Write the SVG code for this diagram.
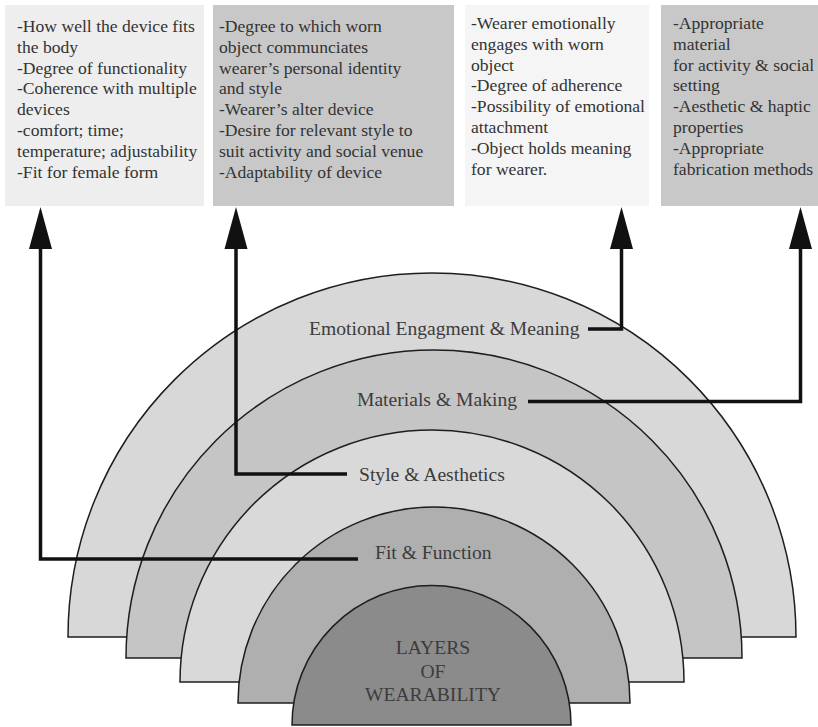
<svg xmlns="http://www.w3.org/2000/svg" width="818" height="727" viewBox="0 0 818 727">
<style>
.box text{font-family:'Liberation Serif','Times New Roman',serif;font-size:17.6px;fill:#333}
.arc{stroke:#1e1e1e;stroke-width:1.5}
.lbl{font-family:'Liberation Serif','Times New Roman',serif;font-size:19.6px;fill:#3c3c3c}
.conn{fill:none;stroke:#111;stroke-width:3.5;stroke-linejoin:miter}
</style>
<defs>
<marker id="ah" markerUnits="userSpaceOnUse" markerWidth="44" markerHeight="26" viewBox="0 -13 44 26" refX="0" refY="0" orient="auto" overflow="visible">
<path d="M0,-11.5 L42,0 L0,11.5 Z" fill="#111"/>
</marker>
</defs>
<rect width="818" height="727" fill="#ffffff"/>
<g id="box-fit" class="box">
<rect x="5" y="5" width="199" height="201" fill="#eeeeee"/>
<text x="17" y="32">-How well the device fits</text>
<text x="17" y="52.8">the body</text>
<text x="17" y="73.6">-Degree of functionality</text>
<text x="17" y="94.4">-Coherence with multiple</text>
<text x="17" y="115.2">devices</text>
<text x="17" y="136">-comfort; time;</text>
<text x="17" y="156.8">temperature; adjustability</text>
<text x="17" y="177.6">-Fit for female form</text>
</g>
<g id="box-style" class="box">
<rect x="213" y="5" width="241" height="201" fill="#c8c8c8"/>
<text x="219" y="32">-Degree to which worn</text>
<text x="219" y="52.8">object communciates</text>
<text x="219" y="73.6">wearer’s personal identity</text>
<text x="219" y="94.4">and style</text>
<text x="219" y="115.2">-Wearer’s alter device</text>
<text x="219" y="136">-Desire for relevant style to</text>
<text x="219" y="156.8">suit activity and social venue</text>
<text x="219" y="177.6">-Adaptability of device</text>
</g>
<g id="box-emotional" class="box">
<rect x="465" y="5" width="184" height="201" fill="#f5f5f5"/>
<text x="471" y="29">-Wearer emotionally</text>
<text x="471" y="49.8">engages with worn</text>
<text x="471" y="70.6">object</text>
<text x="471" y="91.4">-Degree of adherence</text>
<text x="471" y="112.2">-Possibility of emotional</text>
<text x="471" y="133">attachment</text>
<text x="471" y="153.8">-Object holds meaning</text>
<text x="471" y="174.6">for wearer.</text>
</g>
<g id="box-materials" class="box">
<rect x="661" y="5" width="157" height="201" fill="#c8c8c8"/>
<text x="673" y="29">-Appropriate</text>
<text x="673" y="49.8">material</text>
<text x="673" y="70.6">for activity &amp; social</text>
<text x="673" y="91.4">setting</text>
<text x="673" y="112.2">-Aesthetic &amp; haptic</text>
<text x="673" y="133">properties</text>
<text x="673" y="153.8">-Appropriate</text>
<text x="673" y="174.6">fabrication methods</text>
</g>
<g id="layer-emotional">
<path class="arc" fill="#d8d8d8" d="M68,637 A364,364 0 0 1 796,637 Z"/>
</g>
<g id="layer-materials">
<path class="arc" fill="#c5c5c5" d="M126,658 A308,308 0 0 1 742,658 Z"/>
</g>
<g id="layer-style">
<path class="arc" fill="#d9d9d9" d="M180,682 A252,252 0 0 1 684,682 Z"/>
</g>
<g id="layer-fit">
<path class="arc" fill="#afafaf" d="M238,703 A196,196 0 0 1 630,703 Z"/>
</g>
<g id="layer-core">
<path class="arc" fill="#8b8b8b" d="M292,725 A139.5,139.5 0 0 1 571,725 Z"/>
<text class="lbl" x="433" y="654" text-anchor="middle">LAYERS</text>
<text class="lbl" x="433" y="677.5" text-anchor="middle">OF</text>
<text class="lbl" x="433" y="701" text-anchor="middle">WEARABILITY</text>
</g>
<g id="connectors">
<polyline class="conn" points="358,559 40.5,559 40.5,249" marker-end="url(#ah)"/>
<polyline class="conn" points="347,474 236,474 236,249" marker-end="url(#ah)"/>
<polyline class="conn" points="588,329 621.5,329 621.5,249" marker-end="url(#ah)"/>
<polyline class="conn" points="528,401.5 800.5,401.5 800.5,249" marker-end="url(#ah)"/>
</g>
<g id="labels">
<text class="lbl" x="309" y="335">Emotional Engagment &amp; Meaning</text>
<text class="lbl" x="357" y="406">Materials &amp; Making</text>
<text class="lbl" x="359" y="481">Style &amp; Aesthetics</text>
<text class="lbl" x="375" y="559">Fit &amp; Function</text>
</g>
</svg>
